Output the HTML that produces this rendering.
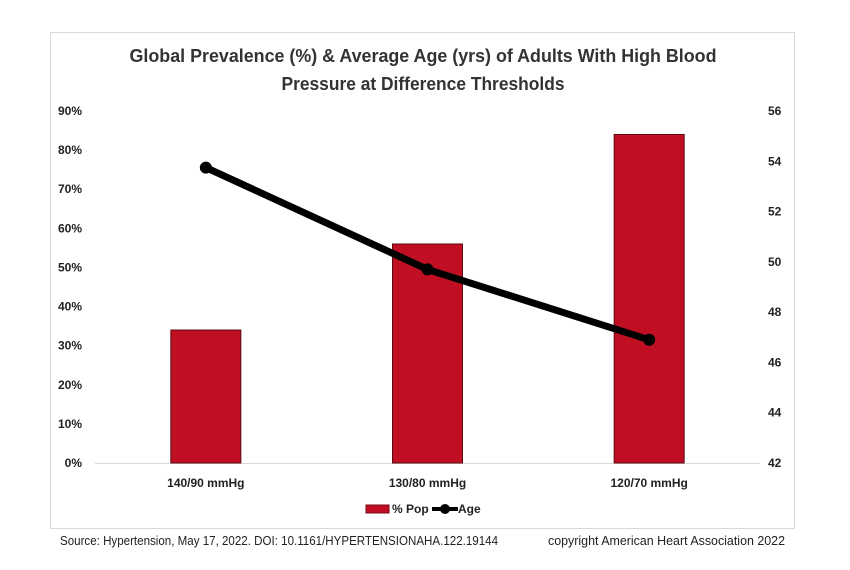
<!DOCTYPE html>
<html><head><meta charset="utf-8"><style>
body{margin:0;background:#fff;width:850px;height:565px;overflow:hidden;font-family:"Liberation Sans",sans-serif}
</style></head><body>
<svg width="850" height="565" xmlns="http://www.w3.org/2000/svg">
<rect x="50.5" y="32.5" width="744" height="496" fill="#fff" stroke="#d9d9d9"/>
<text x="423" y="62" text-anchor="middle" font-size="18.5" font-weight="bold" fill="#333" textLength="587" lengthAdjust="spacingAndGlyphs">Global Prevalence (%) &amp; Average Age (yrs) of Adults With High Blood</text>
<text x="423" y="90" text-anchor="middle" font-size="18.5" font-weight="bold" fill="#333" textLength="283" lengthAdjust="spacingAndGlyphs">Pressure at Difference Thresholds</text>
<g id="plot"></g>
<g>
<rect x="366" y="505" width="23" height="8" fill="#c00f23" stroke="#7a0a14"/>
<text x="392" y="513" font-size="12" font-weight="bold" fill="#222">% Pop</text>
<line x1="432" y1="509" x2="458" y2="509" stroke="#000" stroke-width="4"/>
<circle cx="445" cy="509" r="5" fill="#000"/>
<text x="458" y="513" font-size="12" font-weight="bold" fill="#222">Age</text>
</g>
<text x="60" y="545" font-size="12.5" fill="#222" textLength="438" lengthAdjust="spacingAndGlyphs">Source: Hypertension, May 17, 2022. DOI: 10.1161/HYPERTENSIONAHA.122.19144</text>
<text x="548" y="545" font-size="12.5" fill="#222" textLength="237" lengthAdjust="spacingAndGlyphs">copyright American Heart Association 2022</text>
</svg>
<script>
const categories=["140/90 mmHg","130/80 mmHg","120/70 mmHg"];
const popValues=[34,56,84];
const ageValues=[53.75,49.7,46.9];
const leftTicks=[0,10,20,30,40,50,60,70,80,90];
const rightTicks=[42,44,46,48,50,52,54,56];
const NS="http://www.w3.org/2000/svg";
const g=document.getElementById('plot');
const x0=95,x1=760,yB=463,yT=111;
const yL=v=>yB-(v/90)*(yB-yT);
const yR=v=>yB-((v-42)/14)*(yB-yT);
const bw=(x1-x0)/categories.length;
const xc=i=>x0+bw*(i+0.5);
function mk(t,a){const e=document.createElementNS(NS,t);for(const k in a)e.setAttribute(k,a[k]);g.appendChild(e);return e;}
const base=mk('line',{x1:x0,x2:x1,y1:yB+0.5,y2:yB+0.5,stroke:'#d9d9d9'});


leftTicks.forEach(v=>{const t=mk('text',{x:82,y:yL(v)+4,'text-anchor':'end','font-size':12,'font-weight':'bold',fill:'#222'});t.textContent=v+'%';

});
rightTicks.forEach(v=>{const t=mk('text',{x:768,y:yR(v)+4,'font-size':12,'font-weight':'bold',fill:'#222'});t.textContent=v;

});
categories.forEach((c,i)=>{
const r=mk('rect',{x:xc(i)-35,y:yL(popValues[i]),width:70,height:yB-yL(popValues[i]),fill:'#c00f23',stroke:'#5a0a12','stroke-width':1});


const t=mk('text',{x:xc(i),y:487,'text-anchor':'middle','font-size':12,'font-weight':'bold',fill:'#222'});t.textContent=c;


});
const pl=mk('polyline',{points:ageValues.map((v,i)=>xc(i)+','+yR(v)).join(' '),fill:'none',stroke:'#000','stroke-width':7,'stroke-linejoin':'round'});


ageValues.forEach((v,i)=>{const c=mk('circle',{cx:xc(i),cy:yR(v),r:6,fill:'#000'});

});
</script>
</body></html>
